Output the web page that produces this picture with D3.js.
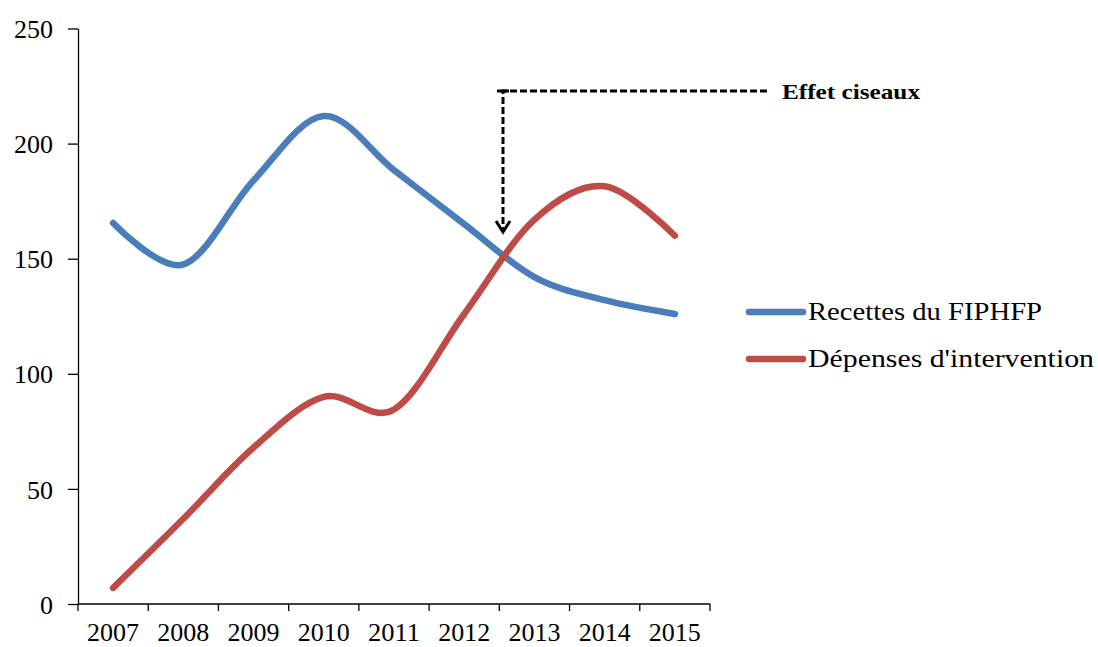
<!DOCTYPE html>
<html>
<head>
<meta charset="utf-8">
<script src="https://cdn.jsdelivr.net/npm/d3@7"></script>
<style>
  body { margin: 0; background: #fff; }
  text { font-family: "Liberation Serif", "Times New Roman", serif; fill: #000; }
</style>
</head>
<body>
<div id="chart"></div>
<script>
// data
var years = ["2007", "2008", "2009", "2010", "2011", "2012", "2013", "2014", "2015"];
var recettes = [165.5, 147.5, 184, 212, 188.5, 165, 142, 132, 126];
var depenses = [7, 37, 68, 90, 84.5, 126, 167, 181.5, 160];
var yTicks = [0, 50, 100, 150, 200, 250];
var seriesNames = ["Recettes du FIPHFP", "Dépenses d'intervention"];
var seriesColors = ["#4A7EBB", "#BE4B48"];
var legendWidths = [234, 286];

var svgWidth = 1098;
var svgHeight = 647;

var margin = { top: 28.5, left: 78, right: 388, bottom: 43 };
var chartWidth = svgWidth - margin.left - margin.right;   // 632
var chartHeight = svgHeight - margin.top - margin.bottom;

var svg = d3.select("#chart")
  .append("svg")
  .attr("width", svgWidth)
  .attr("height", svgHeight);

var chartGroup = svg.append("g")
  .attr("transform", `translate(${margin.left}, ${margin.top})`);

// scales
var xBand = d3.scaleBand().domain(years).range([0, chartWidth]);
var yLinearScale = d3.scaleLinear().domain([0, 250]).range([chartHeight, 0]);
var xCenter = d => xBand(d) + xBand.bandwidth() / 2;

// y axis
var leftAxis = d3.axisLeft(yLinearScale)
  .tickValues(yTicks)
  .tickSize(10)
  .tickSizeOuter(0)
  .tickPadding(15);
var yAxis = chartGroup.append("g").call(leftAxis);
yAxis.select(".domain").attr("stroke", "#000").attr("stroke-width", 1.3);
yAxis.selectAll(".tick line").attr("stroke", "#000").attr("stroke-width", 1.3);
yAxis.selectAll("text")
  .attr("font-family", "Liberation Serif")
  .attr("font-size", 26)
  .attr("dy", "0.35em")
  .attr("fill", "#000");

// x axis: ticks between categories
var xAxis = chartGroup.append("g")
  .attr("transform", `translate(0, ${chartHeight})`);
xAxis.append("line")
  .attr("x1", 0).attr("x2", chartWidth)
  .attr("stroke", "#000").attr("stroke-width", 1.3);
var bounds = years.map(d => xBand(d)).concat([chartWidth]);
xAxis.selectAll("line.tk")
  .data(bounds)
  .enter()
  .append("line")
  .classed("tk", true)
  .attr("x1", d => d).attr("x2", d => d)
  .attr("y1", 0).attr("y2", 7)
  .attr("stroke", "#000").attr("stroke-width", 1.3);
xAxis.selectAll("text")
  .data(years)
  .enter()
  .append("text")
  .attr("x", d => xCenter(d))
  .attr("y", 37)
  .attr("text-anchor", "middle")
  .attr("font-size", 25)
  .attr("textLength", 52)
  .attr("lengthAdjust", "spacingAndGlyphs")
  .text(d => d);

// lines
var line = d3.line()
  .x((d, i) => xCenter(years[i]))
  .y(d => yLinearScale(d))
  .curve(d3.curveCatmullRom.alpha(0));

[recettes, depenses].forEach((s, i) => {
  chartGroup.append("path")
    .datum(s)
    .attr("d", line)
    .attr("fill", "none")
    .attr("stroke", seriesColors[i])
    .attr("stroke-width", 6.5)
    .attr("stroke-linecap", "round")
    .attr("stroke-linejoin", "round");
});

// annotation "Effet ciseaux"
var ann = svg.append("g");
ann.append("path")
  .attr("d", "M767,91 H503 V232")
  .attr("fill", "none")
  .attr("stroke", "#000")
  .attr("stroke-width", 3)
  .attr("stroke-dasharray", "7,3");
ann.append("line")
  .attr("x1", 497).attr("x2", 509).attr("y1", 91).attr("y2", 91)
  .attr("stroke", "#000").attr("stroke-width", 3);
ann.append("path")
  .attr("d", "M496,221 L503,232 L510,221")
  .attr("fill", "none")
  .attr("stroke", "#000")
  .attr("stroke-width", 3);
ann.append("text")
  .attr("x", 782)
  .attr("y", 99)
  .attr("font-size", 22)
  .attr("font-weight", "bold")
  .attr("textLength", 138)
  .attr("lengthAdjust", "spacingAndGlyphs")
  .text("Effet ciseaux");

// legend
var legend = svg.append("g").attr("transform", "translate(749, 312)");
seriesNames.forEach((name, i) => {
  var g = legend.append("g").attr("transform", `translate(0, ${i * 47})`);
  g.append("line")
    .attr("x1", 0).attr("x2", 54)
    .attr("stroke", seriesColors[i])
    .attr("stroke-width", 6.5)
    .attr("stroke-linecap", "round");
  g.append("text")
    .attr("x", 59)
    .attr("y", 8)
    .attr("font-size", 26)
    .attr("textLength", legendWidths[i])
    .attr("lengthAdjust", "spacingAndGlyphs")
    .text(name);
});
</script>
</body>
</html>
